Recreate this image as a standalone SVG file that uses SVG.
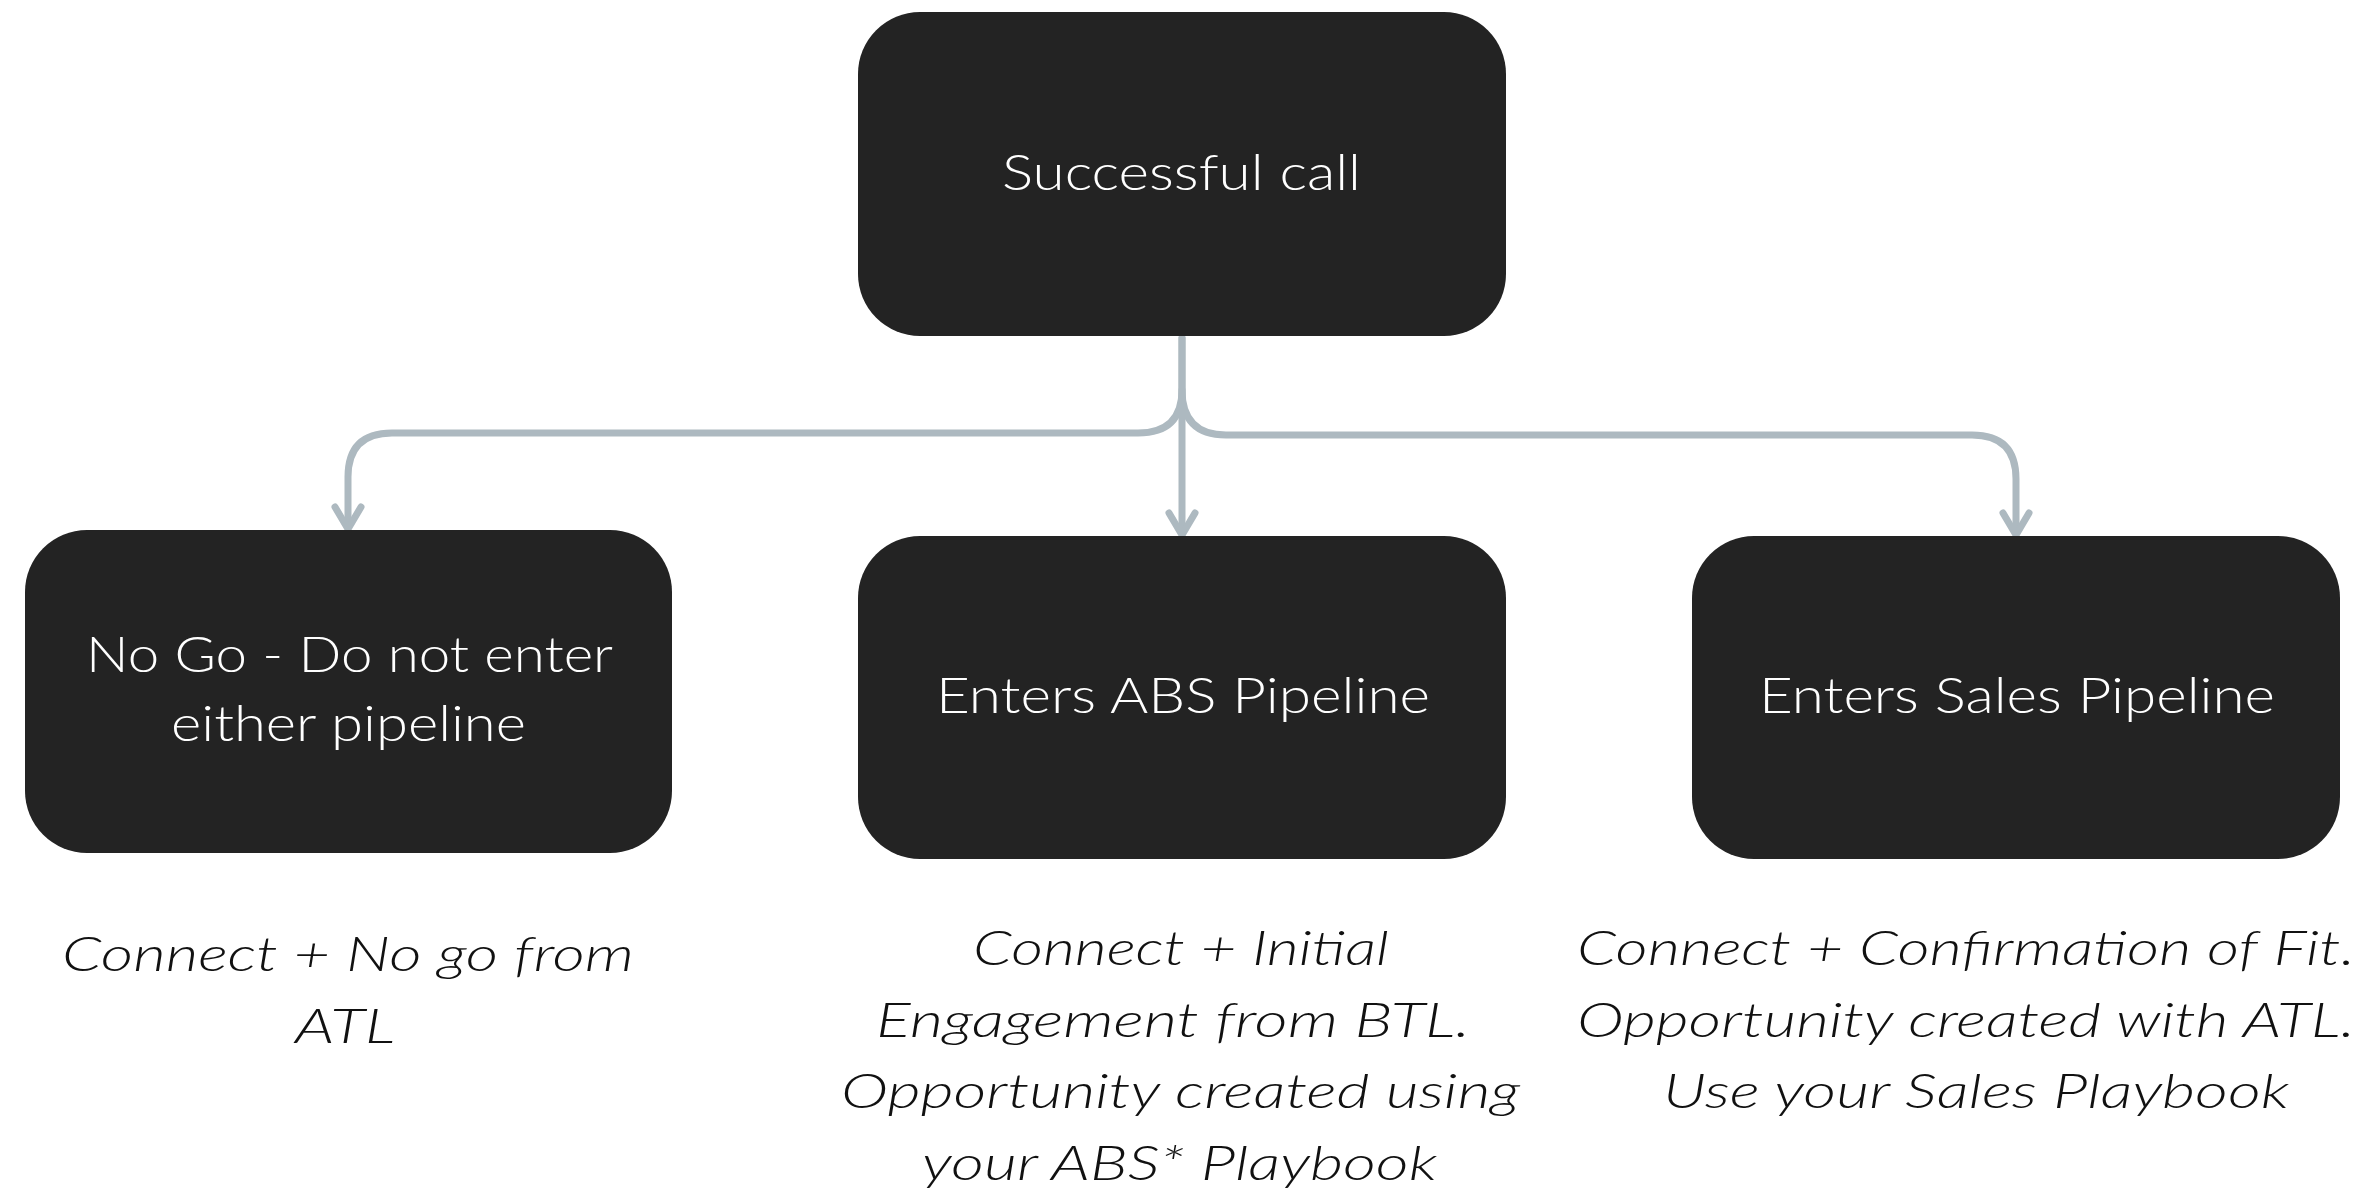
<svg xmlns="http://www.w3.org/2000/svg" width="2374" height="1190" viewBox="0 0 2374 1190">
<style>
.box{fill:#232323;}
.lbl{font-family:"Lato","Liberation Sans",sans-serif;font-weight:300;font-size:49px;fill:#ffffff;}
.note{font-family:"Lato","Liberation Sans",sans-serif;font-weight:300;font-style:italic;font-size:48px;fill:#111111;}
.con{fill:none;stroke:#adb9c0;stroke-width:7;stroke-linecap:round;stroke-linejoin:round;}
</style>
<rect width="2374" height="1190" fill="#ffffff"/>
<g id="connectors">
<path class="con" d="M1182,338 V390 Q1182,433 1138,433 H392 Q348,433 348,477 V527"/>
<path class="con" d="M1182,390 Q1182,435 1226,435 H1972 Q2016,435 2016,479 V533"/>
<path class="con" d="M1182,338 V533"/>
<path class="con" d="M335,507 L348,529 L361,507"/>
<path class="con" d="M1169,513 L1182,535 L1195,513"/>
<path class="con" d="M2003,513 L2016,535 L2029,513"/>
</g>
<g id="node-successful-call">
<rect class="box" x="858" y="12" width="648" height="324" rx="62" ry="62"/>
<text class="lbl" x="1002" y="190" textLength="359" lengthAdjust="spacingAndGlyphs">Successful call</text>
</g>
<g id="node-no-go">
<rect class="box" x="25" y="530" width="647" height="323" rx="62" ry="62"/>
<text class="lbl" x="86" y="672" textLength="527" lengthAdjust="spacingAndGlyphs">No Go - Do not enter</text>
<text class="lbl" x="171" y="741" textLength="355" lengthAdjust="spacingAndGlyphs">either pipeline</text>
</g>
<g id="node-abs">
<rect class="box" x="858" y="536" width="648" height="323" rx="62" ry="62"/>
<text class="lbl" x="936" y="713" textLength="494" lengthAdjust="spacingAndGlyphs">Enters ABS Pipeline</text>
</g>
<g id="node-sales">
<rect class="box" x="1692" y="536" width="648" height="323" rx="62" ry="62"/>
<text class="lbl" x="1759" y="713" textLength="516" lengthAdjust="spacingAndGlyphs">Enters Sales Pipeline</text>
</g>
<g id="note-no-go">
<text class="note" x="62" y="971" textLength="572" lengthAdjust="spacingAndGlyphs">Connect + No go from</text>
<text class="note" x="295" y="1043" textLength="100" lengthAdjust="spacingAndGlyphs">ATL</text>
</g>
<g id="note-abs">
<text class="note" x="973" y="965" textLength="416" lengthAdjust="spacingAndGlyphs">Connect + Initial</text>
<text class="note" x="876" y="1037" textLength="594" lengthAdjust="spacingAndGlyphs">Engagement from BTL.</text>
<text class="note" x="841" y="1108" textLength="679" lengthAdjust="spacingAndGlyphs">Opportunity created using</text>
<text class="note" x="922" y="1180" textLength="515" lengthAdjust="spacingAndGlyphs">your ABS* Playbook</text>
</g>
<g id="note-sales">
<text class="note" x="1577" y="965" textLength="778" lengthAdjust="spacingAndGlyphs">Connect + Confirmation of Fit.</text>
<text class="note" x="1577" y="1037" textLength="778" lengthAdjust="spacingAndGlyphs">Opportunity created with ATL.</text>
<text class="note" x="1663" y="1108" textLength="626" lengthAdjust="spacingAndGlyphs">Use your Sales Playbook</text>
</g>
</svg>
